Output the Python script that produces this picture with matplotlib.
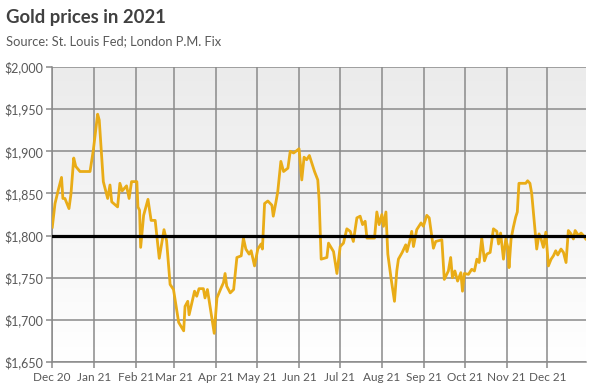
import numpy as np
import pandas as pd
import matplotlib
matplotlib.use("Agg")
import matplotlib.pyplot as plt

plt.rcParams["font.family"] = ["Lato", "DejaVu Sans"]

# 数据：点（距 2020-12-01 的天数，金价 美元）
start_date = pd.Timestamp("2020-12-01")
day_offsets = [
    0.2, 2.2, 4.6, 7, 8, 9.5, 12.5, 14, 16, 17.5, 20.6, 28, 30.4, 33.6, 34.8,
    37.8, 41, 42.7, 44, 48.3, 50, 51.7, 54.9, 56.8, 58.6, 61.6, 62.5, 63.3,
    64.5, 65.3, 67.5, 70.7, 73, 76, 79, 82.5, 84.4, 87, 89.5, 92, 93.3, 97,
    98, 100, 101, 105, 106.6, 108.3, 111.5, 112.7, 114.5, 119.5, 121.5,
    124.6, 126.3, 127.5, 128.7, 131.3, 133.8, 136.2, 139.4, 141, 142.8,
    145.2, 146.7, 149.2, 151.6, 154, 155, 156.6, 159, 162, 163, 165, 166.3,
    168.6, 170.6, 173.8, 175.5, 178, 179.7, 182, 184, 185.7, 187.6, 189.6,
    193.4, 195.8, 196.8, 198.3, 202.5, 203.7, 207.4, 209.9, 212.3, 214.7,
    217.2, 219.7, 222, 224.6, 227, 228.8, 230.7, 232, 237.6, 239.3, 241,
    243, 244.2, 246, 247.4, 249.9, 252.3, 254, 255.2, 258, 260.6, 261.5,
    263.5, 265, 266.3, 268.7, 271.9, 273.6, 276.1, 277.9, 281, 282.7, 287.2,
    289, 292, 293.7, 295, 296.8, 298.8, 301.2, 302.4, 303.8, 306.8, 309.2,
    311.2, 313, 314.7, 316.6, 318.6, 320.3, 322.8, 325.2, 327.7, 329, 330.5,
    332.6, 334.3, 335.8, 336.7, 338.2, 339.9, 341.6, 342.8, 344, 346, 349,
    350.4, 352.1, 353.4, 355.4, 357.1, 358.8, 360.3, 362, 363.8, 365.7,
    367.7, 369.4, 371.1, 372.6, 375, 376.8, 378.7, 380.4, 382.4, 384.1,
    385.4, 387.8, 389.8, 391.5, 393.2,
]
gold_price = [
    1810, 1838, 1854, 1869, 1844, 1844, 1832, 1850, 1892, 1882, 1876, 1876,
    1901, 1944, 1937, 1864, 1844, 1860, 1840, 1834, 1862, 1853, 1859, 1844,
    1864, 1864, 1864, 1834, 1830, 1786, 1824, 1843, 1818, 1818, 1773, 1807,
    1794, 1742, 1736, 1710, 1697, 1687, 1716, 1722, 1706, 1734, 1728, 1737,
    1737, 1726, 1736, 1684, 1726, 1738, 1744, 1755, 1740, 1732, 1736, 1774,
    1776, 1797, 1784, 1778, 1782, 1764, 1784, 1790, 1784, 1838, 1841, 1836,
    1823, 1840, 1852, 1888, 1876, 1880, 1900, 1898, 1900, 1903, 1866, 1893,
    1890, 1895, 1876, 1866, 1842, 1772, 1774, 1791, 1781, 1755, 1787, 1791,
    1808, 1805, 1793, 1821, 1823, 1813, 1817, 1797, 1797, 1828, 1813, 1825,
    1811, 1828, 1778, 1748, 1722, 1758, 1772, 1780, 1789, 1781, 1793, 1805,
    1787, 1807, 1815, 1811, 1824, 1821, 1785, 1793, 1795, 1748, 1758, 1774,
    1750, 1758, 1746, 1756, 1734, 1755, 1754, 1760, 1758, 1772, 1768, 1797,
    1770, 1778, 1780, 1808, 1805, 1790, 1803, 1772, 1796, 1786, 1762, 1796,
    1810, 1822, 1828, 1862, 1862, 1862, 1865, 1862, 1850, 1814, 1784, 1802,
    1796, 1786, 1804, 1764, 1772, 1776, 1782, 1777, 1784, 1780, 1768, 1806,
    1802, 1796, 1806, 1800, 1803, 1800, 1796,
]
reference_level = 1800
month_starts = pd.date_range("2020-12-01", "2021-12-01", freq="MS")
month_labels = ["Dec 20", "Jan 21", "Feb 21", "Mar 21", "Apr 21", "May 21",
                "Jun 21", "Jul 21", "Aug 21", "Sep 21", "Oct 21", "Nov 21",
                "Dec 21"]
y_ticks = [1650, 1700, 1750, 1800, 1850, 1900, 1950, 2000]

dates = start_date + pd.to_timedelta(day_offsets, unit="D")

fig = plt.figure(figsize=(6, 3.87), dpi=100)
ax = fig.add_axes([0.0867, 0.0646, 0.8895, 0.7623])

# 背景渐变（上灰下白）
grad = np.linspace(0, 1, 256).reshape(-1, 1)
ax.imshow(grad, cmap=matplotlib.colors.LinearSegmentedColormap.from_list(
    "bg", ["#ebebeb", "#ffffff"]), aspect="auto",
    extent=[0, 1, 0, 1], transform=ax.transAxes, zorder=0)

ax.plot(dates, gold_price, color="#E9AC17", linewidth=2.0, zorder=3)
ax.axhline(reference_level, color="black", linewidth=2.3, zorder=4)

ax.set_xlim(start_date, dates[-1])
ax.set_ylim(1650, 2000)
ax.set_xticks(month_starts)
ax.set_xticklabels(month_labels)
ax.set_yticks(y_ticks)
ax.set_yticklabels(["${:,}".format(v) for v in y_ticks])

ax.grid(True, color="#8a8a8a", linewidth=1.1, zorder=1)
ax.set_axisbelow(True)
for side in ["right", "top"]:
    ax.spines[side].set_visible(False)
for side in ["left", "bottom"]:
    ax.spines[side].set_color("#8a8a8a")
    ax.spines[side].set_linewidth(1.1)
ax.tick_params(axis="both", colors="#8a8a8a", length=4, width=1.1,
               labelcolor="#595959", labelsize=8.5)
ax.tick_params(axis="y", pad=2, labelsize=9)
ax.tick_params(axis="x", pad=3)

fig.text(0.01, 0.955, "Gold prices in 2021", fontsize=13.3, fontweight="bold",
         color="#404040", va="center", ha="left")
fig.text(0.01, 0.893, "Source: St. Louis Fed; London P.M. Fix", fontsize=9.3,
         color="#595959", va="center", ha="left")

fig.savefig("out.png", dpi=100)
